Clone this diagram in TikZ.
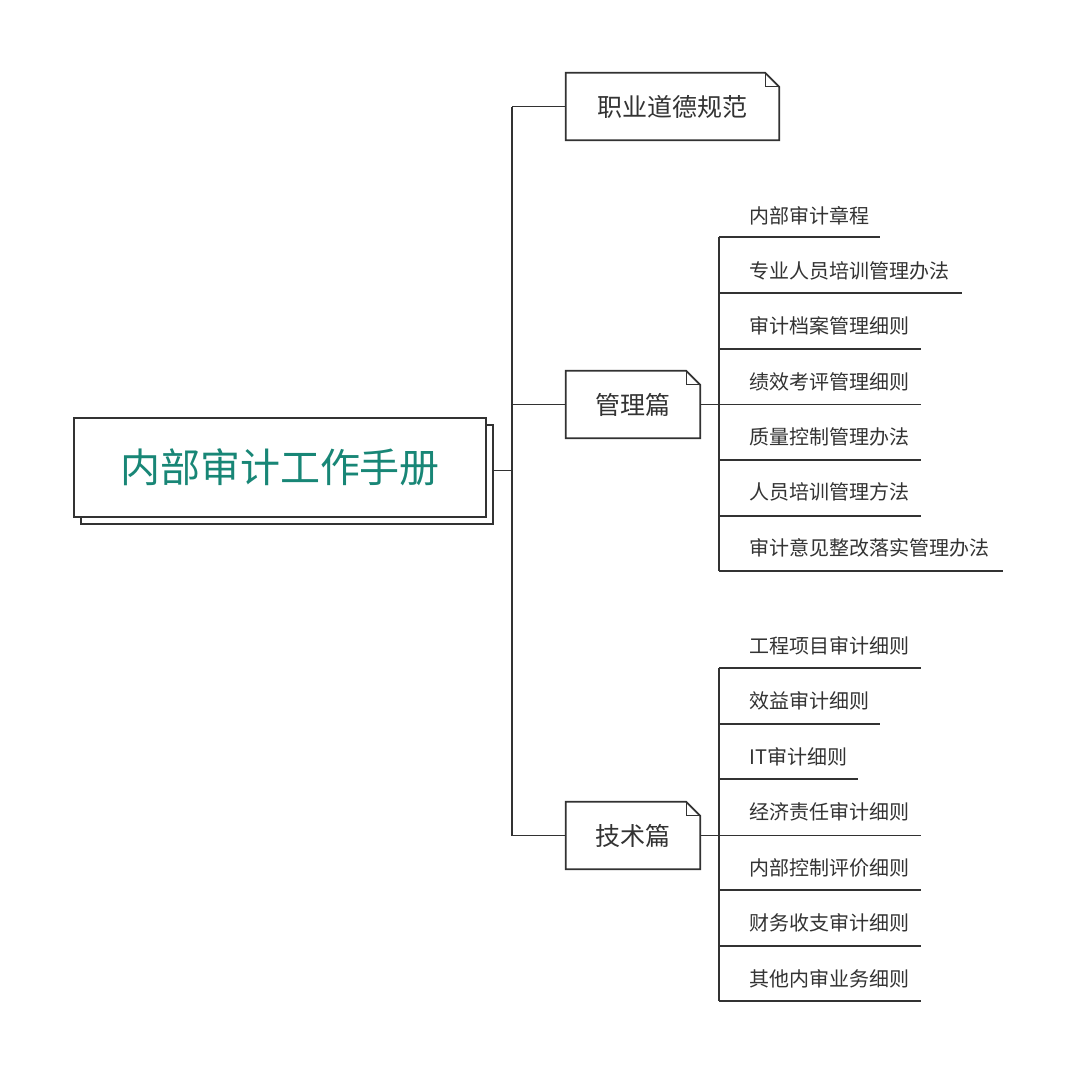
\documentclass[tikz,border=0pt]{standalone}
\usepackage{fontspec}
\setmainfont{Noto Sans CJK SC}
\definecolor{teal1}{RGB}{24,134,118}
\definecolor{ink}{RGB}{51,51,51}
\definecolor{lne}{RGB}{50,50,50}
\newcommand{\foldbox}[1]{%
  \draw[draw=lne,line width=1.8pt,line join=miter] (#1.south west) -- (#1.north west) -- ([xshift=-14pt]#1.north east)
     -- ([yshift=-14pt]#1.north east) -- (#1.south east) -- cycle;
  \draw[draw=lne,line width=1.3pt] ([xshift=-14pt]#1.north east) -- ([xshift=-14pt,yshift=-14pt]#1.north east) -- ([yshift=-14pt]#1.north east);}
\begin{document}
\begin{tikzpicture}[x=1pt,y=-1pt,
  conn/.style={draw=lne,line width=1.8pt},
  mainbox/.style={draw=lne,line width=2pt,fill=white,minimum width=412pt,minimum height=99pt,inner sep=0pt},
  midbox/.style={minimum height=67pt,inner sep=0pt,font=\fontsize{25}{30}\selectfont,text=ink},
  leaf/.style={anchor=west,inner sep=0pt,font=\fontsize{20}{24}\selectfont,text=ink}]
\useasboundingbox[fill=white] (0,0) rectangle (1080,1074);

% main node with shadow
\node[mainbox] (mainsh) at (287,474.5) {};
\node[mainbox,text=teal1,font=\fontsize{40}{48}\selectfont] (main) at (280,467.5) {内部审计工作手册};

% folded boxes
\node[midbox,minimum width=213pt] (ethics) at (672.5,106.5) {职业道德规范};
\node[midbox,minimum width=134pt] (mgmt) at (633,404.5) {管理篇};
\node[midbox,minimum width=134pt] (tech) at (633,835.5) {技术篇};
\foldbox{ethics}
\foldbox{mgmt}
\foldbox{tech}

% main spine
\coordinate (sJ) at (512,470.5);
\coordinate (sTop) at (512,106.5);
\coordinate (sBot) at (512,835.5);
\draw[conn] (mainsh.east |- sJ) -- (sJ);
\draw[conn] (sTop) -- (sBot);
\draw[conn] (sTop) -- (ethics.west);
\draw[conn] (sTop |- mgmt.west) -- (mgmt.west);
\draw[conn] (sBot) -- (tech.west);

% management leaves
\coordinate (mS) at (719,404.5);
\draw[conn] (mgmt.east) -- (mS);
\coordinate (m1) at (719,237);
\coordinate (m7) at (719,571);
\draw[conn] (m1) -- (m7);
\foreach \y/\e/\t/\ty [count=\i] in {
  237/880/内部审计章程/216,
  293/962/专业人员培训管理办法/271,
  349/921/审计档案管理细则/326,
  404.5/921/绩效考评管理细则/382,
  460/921/质量控制管理办法/437,
  516/921/人员培训管理方法/492,
  571/1003/审计意见整改落实管理办法/548}{
  \coordinate (ma\i) at (719,\y);
  \coordinate (mb\i) at (\e,\y);
  \draw[conn] (ma\i) -- (mb\i);
  \node[leaf] (ml\i) at (749,\ty) {\t};
}

% technical leaves
\coordinate (tS) at (719,835.5);
\draw[conn] (tech.east) -- (tS);
\coordinate (t1) at (719,668);
\coordinate (t7) at (719,1001);
\draw[conn] (t1) -- (t7);
\foreach \y/\e/\t/\ty [count=\i] in {
  668/921/工程项目审计细则/646,
  724/880/效益审计细则/701,
  779/858/IT审计细则/757,
  835.5/921/经济责任审计细则/812,
  890/921/内部控制评价细则/868,
  946/921/财务收支审计细则/923,
  1001/921/其他内审业务细则/979}{
  \coordinate (ta\i) at (719,\y);
  \coordinate (tb\i) at (\e,\y);
  \draw[conn] (ta\i) -- (tb\i);
  \node[leaf] (tl\i) at (749,\ty) {\t};
}
\end{tikzpicture}
\end{document}
